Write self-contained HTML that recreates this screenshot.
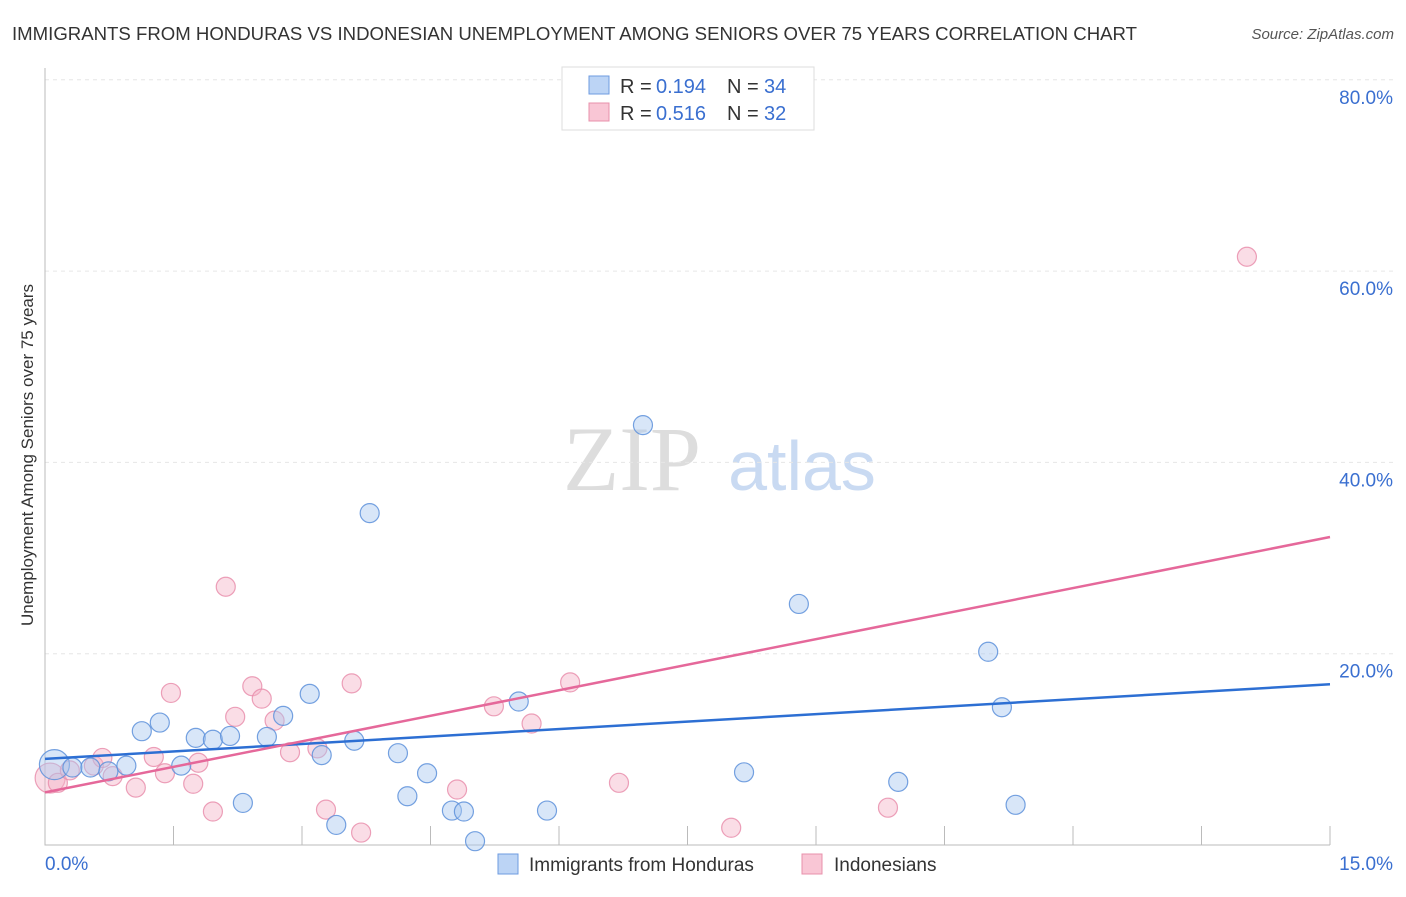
<!DOCTYPE html>
<html><head><meta charset="utf-8"><style>
body{margin:0;background:#fff;font-family:"Liberation Sans",sans-serif;}
</style></head><body>
<svg width="1406" height="892" xmlns="http://www.w3.org/2000/svg" id="c" font-family="Liberation Sans, sans-serif">
<text x="12" y="40" font-size="18" fill="#333" textLength="1125" lengthAdjust="spacingAndGlyphs">IMMIGRANTS FROM HONDURAS VS INDONESIAN UNEMPLOYMENT AMONG SENIORS OVER 75 YEARS CORRELATION CHART</text>
<text x="1394" y="39" font-size="15" fill="#555" font-style="italic" text-anchor="end">Source: ZipAtlas.com</text>
<text x="632" y="490" font-size="92" fill="#ddd" font-family="Liberation Serif, serif" text-anchor="middle">ZIP</text>
<text x="802" y="490" font-size="70" fill="#c9daf2" text-anchor="middle">atlas</text>
<text transform="translate(33,455) rotate(-90)" font-size="17" fill="#333" text-anchor="middle">Unemployment Among Seniors over 75 years</text>
<g id="grid"></g><g id="marks"></g>
<g>
<rect x="562" y="67" width="252" height="63" fill="#fff" stroke="#ddd"/>
<rect x="589" y="76" width="20" height="18" fill="#bcd4f5" stroke="#6e9be0"/>
<rect x="589" y="103" width="20" height="18" fill="#f9c6d5" stroke="#e890ab"/>
<text x="620" y="93" font-size="20" fill="#333">R =</text>
<text x="656" y="93" font-size="20" fill="#3a6fd0">0.194</text>
<text x="727" y="93" font-size="20" fill="#333">N =</text>
<text x="764" y="93" font-size="20" fill="#3a6fd0">34</text>
<text x="620" y="120" font-size="20" fill="#333">R =</text>
<text x="656" y="120" font-size="20" fill="#3a6fd0">0.516</text>
<text x="727" y="120" font-size="20" fill="#333">N =</text>
<text x="764" y="120" font-size="20" fill="#3a6fd0">32</text>
</g>
<g>
<rect x="498" y="854" width="20" height="20" fill="#bcd4f5" stroke="#6e9be0"/>
<text x="529" y="871" font-size="19" fill="#333">Immigrants from Honduras</text>
<rect x="802" y="854" width="20" height="20" fill="#f9c6d5" stroke="#e890ab"/>
<text x="834" y="871" font-size="19" fill="#333">Indonesians</text>
</g>
</svg>
<script>
const blueX=[0.11,0.32,0.53,0.74,0.95,1.13,1.34,1.59,1.76,1.96,2.16,2.31,2.59,2.78,3.09,3.23,3.40,3.61,3.79,4.12,4.23,4.46,4.75,4.89,5.02,5.53,5.86,6.98,8.16,8.80,9.96,11.01,11.17,11.33];
const blueY=[8.4,8.1,8.1,7.7,8.3,11.9,12.8,8.3,11.2,11.0,11.4,4.4,11.3,13.5,15.8,9.4,2.1,10.9,34.7,9.6,5.1,7.5,3.6,3.5,0.4,15.0,3.6,43.9,7.6,25.2,6.6,20.2,14.4,4.2];
const pinkX=[0.06,0.15,0.29,0.57,0.67,0.79,1.06,1.27,1.40,1.47,1.73,1.79,1.96,2.11,2.22,2.42,2.53,2.68,2.86,3.18,3.28,3.58,3.69,4.81,5.24,5.68,6.13,6.70,8.01,9.84,14.03];
const pinkY=[7.0,6.5,7.8,8.3,9.1,7.2,6.0,9.2,7.5,15.9,6.4,8.6,3.5,27.0,13.4,16.6,15.3,13.0,9.7,10.1,3.7,16.9,1.3,5.8,14.5,12.7,17.0,6.5,1.8,3.9,61.5];
const blueTrend=[9.0,16.8];
const pinkTrend=[5.5,32.2];
const yTicks=[20,40,60,80];
const yTickLabels=["20.0%","40.0%","60.0%","80.0%"];
const xTicks=[1.5,3,4.5,6,7.5,9,10.5,12,13.5,15];
const NS="http://www.w3.org/2000/svg";
const X=v=>45+v/15*1285, Y=v=>845-v/20*191.3;
const g=document.getElementById('grid'), m=document.getElementById('marks');
function el(t,a,p){const e=document.createElementNS(NS,t);for(const k in a)e.setAttribute(k,a[k]);p.appendChild(e);return e;}
yTicks.forEach((t,i)=>{
 const l=el('line',{x1:45,x2:1395,y1:Y(t),y2:Y(t),stroke:'#e6e6e6','stroke-dasharray':'4,4'},g);
 
 
 const tx=el('text',{x:1393,y:Y(t)+24,'font-size':19,fill:'#3a6fd0','text-anchor':'end'},g);tx.textContent=yTickLabels[i];
 
 
});
xTicks.forEach(t=>{const l=el('line',{x1:X(t),x2:X(t),y1:826,y2:845,stroke:'#bbb'},g);
 
 });
const ax=el('path',{d:'M45 68 V845 H1330',fill:'none',stroke:'#bbb'},g);


let t0=el('text',{x:45,y:870,'font-size':19,fill:'#3a6fd0'},g);t0.textContent='0.0%';


let t1=el('text',{x:1393,y:870,'font-size':19,fill:'#3a6fd0','text-anchor':'end'},g);t1.textContent='15.0%';


function pts(xs,ys,fill,stroke,name){xs.forEach((x,i)=>{
 const c=el('circle',{cx:X(x),cy:Y(ys[i]),r:i==0?15:9.5,fill:fill,'fill-opacity':0.45,stroke:stroke,'stroke-width':1.2,'stroke-opacity':0.85},m);
 
 });}
pts(pinkX,pinkY,'#f5b3c7','#e98fad','indonesians-point');
pts(blueX,blueY,'#a9c7f0','#5d90da','honduras-point');
const bl=el('line',{x1:X(0),y1:Y(blueTrend[0]),x2:X(15),y2:Y(blueTrend[1]),stroke:'#2d6fd3','stroke-width':2.5},m);


const pl=el('line',{x1:X(0),y1:Y(pinkTrend[0]),x2:X(15),y2:Y(pinkTrend[1]),stroke:'#e5689a','stroke-width':2.5},m);


</script>
</body></html>
